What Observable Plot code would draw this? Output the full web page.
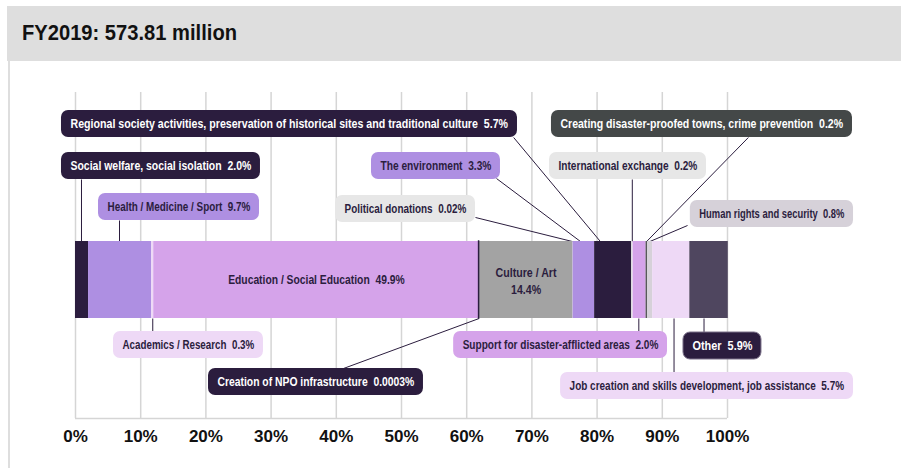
<!DOCTYPE html>
<html>
<head>
<meta charset="utf-8">
<script src="https://cdn.jsdelivr.net/npm/d3@7"></script>
<script src="https://cdn.jsdelivr.net/npm/@observablehq/plot@0.6"></script>
<style>
  body { margin: 0; background: #fff; width: 901px; height: 468px; overflow: hidden; position: relative; }
  #band { position: absolute; left: 7px; top: 6px; width: 894px; height: 55px; background: #dedede; }
  #title { position: absolute; left: 22px; top: 6px; height: 55px; line-height: 55px; margin: 0;
           font-family: "Liberation Sans", Arial, sans-serif; white-space: nowrap;
           font-weight: bold; font-size: 21.5px; color: #111; transform-origin: 0 50%; }
  #edge { position: absolute; left: 8px; top: 61px; width: 2px; height: 407px; background: #dedede; }
  #chart { position: absolute; left: 0; top: 61px; }
</style>
</head>
<body>
<div id="band"></div>
<h1 id="title"></h1>
<div id="edge"></div>
<div id="chart"></div>
<script>
// ---- data ----
const title = "FY2019: 573.81 million";
const categories = [
  "Social welfare, social isolation",
  "Health / Medicine / Sport",
  "Academics / Research",
  "Education / Social Education",
  "Creation of NPO infrastructure",
  "Culture / Art",
  "Political donations",
  "The environment",
  "Regional society activities, preservation of historical sites and traditional culture",
  "International exchange",
  "Support for disaster-afflicted areas",
  "Creating disaster-proofed towns, crime prevention",
  "Human rights and security",
  "Job creation and skills development, job assistance",
  "Other"
];
const shares = [2.0, 9.7, 0.3, 49.9, 0.0003, 14.4, 0.02, 3.3, 5.7, 0.2, 2.0, 0.2, 0.8, 5.7, 5.9];
const shareLabels = ["2.0%", "9.7%", "0.3%", "49.9%", "0.0003%", "14.4%", "0.02%", "3.3%", "5.7%", "0.2%", "2.0%", "0.2%", "0.8%", "5.7%", "5.9%"];
const xTicks = [0, 10, 20, 30, 40, 50, 60, 70, 80, 90, 100];

// ---- styles ----
const DARK = "#2b1d3e";
const segColors = ["#2b1d3e", "#ae8fe2", "#eed9f6", "#d5a3ea", "#2b1d3e", "#a3a3a3", "#e7e7e7",
                   "#ae8fe2", "#2b1d3e", "#e7e7e7", "#d5a3ea", "#444848", "#d6d1d9", "#eed9f6", "#4f465f"];
const boxColors = ["#2b1d3e", "#ae8fe2", "#eed9f6", "#d5a3ea", "#2b1d3e", "#a3a3a3", "#e7e7e7",
                   "#ae8fe2", "#2b1d3e", "#e7e7e7", "#d5a3ea", "#444848", "#d6d1d9", "#eed9f6", "#2b1d3e"];
const boxText = ["#fff", DARK, DARK, DARK, "#fff", DARK, DARK, DARK, "#fff", DARK, DARK, "#fff", DARK, DARK, "#fff"];

// ---- layout (x in % units, y in px offset below grid top) ----
const barTop = 149, barBottom = 226, gridBottom = 326, boxH = 27;
const boxLayout = [ // category index, left x, right x, top y
  {i: 8, x1: -2.15, x2: 67.79, y: 18}, {i: 11, x1: 73.0, x2: 119.17, y: 18},
  {i: 0, x1: -2.15, x2: 28.37, y: 60}, {i: 7, x1: 45.4, x2: 65.18, y: 60}, {i: 9, x1: 72.7, x2: 96.78, y: 60},
  {i: 1, x1: 3.53, x2: 28.22, y: 101}, {i: 6, x1: 39.88, x2: 61.35, y: 103}, {i: 12, x1: 94.3, x2: 119.33, y: 108},
  {i: 2, x1: 5.83, x2: 28.83, y: 239}, {i: 10, x1: 58.0, x2: 90.8, y: 239}, {i: 14, x1: 93.25, x2: 105.21, y: 240},
  {i: 4, x1: 20.4, x2: 53.37, y: 276}, {i: 13, x1: 74.4, x2: 119.33, y: 280}
];
const leaders = [
  [0.92, 87, 0.92, barTop], [6.75, 128, 6.75, barTop], [67.2, 45, 80.5, barTop],
  [64.57, 86, 77.45, barTop], [61.35, 125, 76.2, barTop], [85.4, 87, 85.4, barTop],
  [103.2, 45, 87.6, barTop], [93.87, 133, 88.1, barTop],
  [11.85, barBottom, 11.85, 239], [61.9, barBottom, 41.1, 276], [86.4, barBottom, 86.4, 239],
  [96.4, barBottom, 96.4, 240], [91.8, barBottom, 91.8, 280]
];

// title, condensed to the reference width
const titleEl = document.getElementById("title");
titleEl.textContent = title;
const titleW = titleEl.getBoundingClientRect().width;
titleEl.style.transform = `scaleX(${215 / titleW})`;

const LABEL_FONT = '"Liberation Sans", Arial, sans-serif';
const labelSize = 12.5;
const labelWeight = "bold";
const ctx = document.createElement("canvas").getContext("2d");
ctx.font = `${labelWeight} ${labelSize}px ${LABEL_FONT}`;

const xRange = [75, 727];
const pxPerUnit = (xRange[1] - xRange[0]) / 100;
const pad = 9;

const ends = d3.cumsum(shares);
const segments = categories.map((c, i) => ({
  cat: c, share: shares[i], x1: ends[i] - shares[i], x2: ends[i], fill: segColors[i]
}));

const boxes = boxLayout.map(b => {
  const text = `${categories[b.i]}\u00a0\u00a0${shareLabels[b.i]}`;
  const target = (b.x2 - b.x1) * pxPerUnit - 2 * pad;   // condense text to fit its box
  const squeeze = Math.min(0.9, target / ctx.measureText(text).width);
  return {
    text, squeeze, x1: b.x1, x2: b.x2,
    x: b.x1 + pad / pxPerUnit, y1: b.y, y2: b.y + boxH, y: b.y + boxH / 2,
    fill: boxColors[b.i], color: boxText[b.i], stroke: b.i === 14 ? "#7a7088" : "none"
  };
});
const baseSqueeze = boxes[0].squeeze;

const links = leaders.map(([x1, y1, x2, y2]) => ({x1, y1, x2, y2}));

const edu = segments[3], cul = segments[5];
const inner = [
  {x: (edu.x1 + edu.x2) / 2, y: (barTop + barBottom) / 2, text: `${edu.cat}\u00a0\u00a0${shareLabels[3]}`, squeeze: baseSqueeze * 0.97},
  {x: (cul.x1 + cul.x2) / 2, y: (barTop + barBottom) / 2, text: `${cul.cat}\n${shareLabels[5]}`, squeeze: baseSqueeze}
];

const chart = Plot.plot({
  width: 901,
  height: 407,
  marginLeft: xRange[0],
  marginRight: 901 - xRange[1],
  marginTop: 31,
  marginBottom: 50,
  style: {
    background: "transparent", overflow: "visible",
    fontFamily: LABEL_FONT, fontSize: "17px", fontWeight: "bold", color: "#111"
  },
  x: {domain: [0, 100], ticks: xTicks, tickFormat: d => d + "%", tickSize: 0, tickPadding: 11, label: null},
  y: {domain: [0, gridBottom], reverse: true, axis: null},
  color: {type: "identity"},
  marks: [
    Plot.ruleX(xTicks, {x: d => d, y1: 0, y2: gridBottom, stroke: "#d5d5d5", strokeWidth: 1.5}),
    Plot.ruleY([gridBottom], {x1: 0, x2: 100, stroke: "#d5d5d5", strokeWidth: 1.5}),
    Plot.link(links, {x1: "x1", y1: "y1", x2: "x2", y2: "y2", stroke: DARK, strokeWidth: 1}),
    Plot.rect(segments, {x1: "x1", x2: "x2", y1: barTop, y2: barBottom, fill: "fill"}),
    Plot.rect(segments.filter(d => d.share < 0.001), {x1: "x1", x2: "x2", y1: barTop, y2: barBottom, stroke: DARK, strokeWidth: 1.5}),
    Plot.text(inner, {x: "x", y: "y", text: "text", fill: DARK, fontSize: labelSize, fontWeight: labelWeight, lineHeight: 1.35, lineAnchor: "middle"}),
    Plot.rect(boxes, {x1: "x1", x2: "x2", y1: "y1", y2: "y2", fill: "fill", stroke: "stroke", strokeWidth: 1, rx: 7}),
    Plot.text(boxes, {x: "x", y: "y", text: "text", fill: "color", textAnchor: "start", lineAnchor: "middle", fontSize: labelSize, fontWeight: labelWeight})
  ]
});

// horizontal condensing of the label texts, anchored at each text's scaled position
const sx = chart.scale("x"), sy = chart.scale("y");
const textGroups = chart.querySelectorAll('g[aria-label="text"]');
[inner, boxes].forEach((data, gi) => {
  const nodes = textGroups[gi].querySelectorAll(":scope > text");
  nodes.forEach((t, k) => {
    const d = data[k];
    t.removeAttribute("x"); t.removeAttribute("y");
    if (!t.querySelector("tspan")) t.setAttribute("dy", "0.35em");
    t.setAttribute("transform", `translate(${sx.apply(d.x)},${sy.apply(d.y)}) scale(${d.squeeze},1)`);
  });
});
document.getElementById("chart").appendChild(chart);
</script>
</body>
</html>
